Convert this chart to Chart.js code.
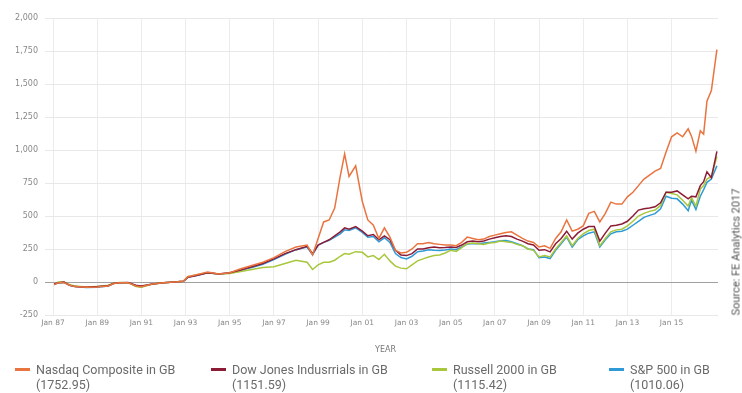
<!DOCTYPE html>
<html>
<head>
<meta charset="utf-8">
<script src="https://cdn.jsdelivr.net/npm/chart.js@4"></script>
<style>
    body { margin: 0; background: #fff; }
    #wrap { position: relative; width: 742px; height: 393px; font-family: 'DejaVu Sans', sans-serif; }
    #chart { position: absolute; left: 0; top: 0; }
    .legend-item { position: absolute; top: 362px; font-family: Roboto, sans-serif; font-size: 12.5px; line-height: 15px; color: #6a6a6a; white-space: nowrap; }
    .legend-item .mark { position: absolute; left: -21px; top: 6px; width: 15px; height: 3px; }
    #source { position: absolute; left: 736px; top: 252px; transform: translate(-50%, -50%) rotate(-90deg); white-space: nowrap; font-family: Roboto, sans-serif; font-size: 11px; color: #555; }
</style>
</head>
<body>
<div id="wrap">
    <canvas id="chart" width="742" height="393"></canvas>
    <div id="legend"></div>
    <div id="source">Source: FE Analytics 2017</div>
</div>
<script>
// time in decimal years
const dates = [
    1987.05, 1987.25, 1987.5, 1987.75, 1988.0, 1988.5, 1989.0, 1989.5, 1989.75,
    1990.0, 1990.4, 1990.75, 1991.0, 1991.5, 1992.0, 1992.5, 1992.9,
    1993.1, 1993.5, 1994.0, 1994.5, 1995.0, 1995.5, 1996.0, 1996.5,
    1997.0, 1997.5, 1998.0, 1998.5, 1998.75, 1999.0, 1999.25, 1999.5, 1999.75,
    2000.0, 2000.2, 2000.4, 2000.7, 2001.0, 2001.25, 2001.5, 2001.75,
    2002.0, 2002.25, 2002.5, 2002.75, 2003.0, 2003.25, 2003.5, 2003.75,
    2004.0, 2004.25, 2004.5, 2004.75, 2005.0, 2005.25, 2005.5, 2005.75,
    2006.0, 2006.25, 2006.5, 2006.75, 2007.0, 2007.25, 2007.5, 2007.75,
    2008.0, 2008.25, 2008.5, 2008.75, 2009.0, 2009.25, 2009.5, 2009.75,
    2010.0, 2010.25, 2010.5, 2010.75, 2011.0, 2011.25, 2011.5, 2011.75,
    2012.0, 2012.25, 2012.5, 2012.75, 2013.0, 2013.25, 2013.5, 2013.75,
    2014.0, 2014.25, 2014.5, 2014.75, 2015.0, 2015.25, 2015.5, 2015.75,
    2015.9, 2016.1, 2016.3, 2016.45, 2016.6, 2016.8, 2017.05
];

const nasdaq = [
    -20, -5, -5, -25, -35, -40, -38, -30, -12,
    -5, -5, -30, -35, -15, -5, 0, 5,
    40, 55, 75, 60, 70, 100, 125, 150,
    185, 230, 265, 280, 205, 330, 455, 470, 560,
    800, 970, 800, 880, 610, 470, 430, 330,
    410, 340, 240, 220, 225, 250, 290, 290,
    300, 290, 285, 280, 280, 275, 300, 340,
    330, 320, 325, 345, 355, 365, 375, 380,
    355, 330, 310, 300, 265, 275, 255, 330,
    380, 470, 385, 400, 425, 520, 535, 455,
    520, 605, 590, 590, 645, 680, 730, 780,
    810, 840, 860, 985, 1100, 1130, 1100, 1160,
    1105, 990, 1145, 1120, 1370, 1450, 1760
];

const dowJones = [
    -15, -5, 0, -25, -35, -40, -35, -28, -10,
    -5, -3, -25, -30, -15, -5, 0, 5,
    35, 50, 70, 60, 70, 90, 115, 140,
    175, 215, 245, 270, 215, 280, 300, 320, 350,
    380, 410, 400, 420, 385, 350, 360, 320,
    350, 320, 240, 205, 200, 215, 250, 250,
    260, 265, 260, 262, 265, 262, 280, 305,
    310, 305, 310, 325, 335, 345, 350, 345,
    325, 310, 290, 280, 240, 245, 228, 290,
    330, 385, 325, 370, 400, 420, 420, 310,
    370, 425, 430, 440, 460, 500, 545, 555,
    560, 570, 600, 680, 680, 690, 660, 630,
    650, 645, 730, 760, 835, 790, 990
];

const russell = [
    -15, 0, 0, -20, -30, -38, -35, -25, -10,
    -3, -5, -35, -40, -15, -5, 0, 5,
    40, 55, 70, 60, 65, 80, 95, 110,
    115, 140, 165, 150, 95, 130, 150, 150, 165,
    195, 215, 210, 230, 225, 190, 200, 170,
    210, 160, 120, 105, 100, 130, 160, 175,
    190, 200, 205, 220, 240, 232, 260, 290,
    295, 290, 285, 295, 300, 310, 305, 300,
    285, 275, 250, 240, 190, 200, 190, 250,
    300, 350, 275, 330, 365, 390, 400, 275,
    330, 380, 395, 400, 425, 460, 500, 520,
    535, 545, 580, 680, 670, 660, 620, 575,
    640, 575, 705, 730, 780, 800, 950
];

const sp500 = [
    -20, -5, -5, -25, -35, -42, -40, -30, -12,
    -5, -5, -30, -35, -15, -5, 0, 5,
    35, 50, 70, 60, 68, 90, 110, 135,
    170, 210, 245, 265, 205, 280, 300, 315, 340,
    365, 395, 390, 410, 375, 340, 345, 305,
    335, 300, 215, 185, 175, 195, 230, 235,
    245, 240, 238, 242, 250, 245, 265, 287,
    292, 290, 295, 300, 305, 312, 315, 305,
    290, 275, 250, 245, 185, 190, 178, 240,
    290, 340, 265, 320, 350, 370, 380, 265,
    320, 365, 380, 385, 400, 430, 460, 490,
    505, 518, 555, 650, 635, 630, 590, 540,
    620, 550, 650, 700, 755, 780, 880
];

const tickYears = [1987, 1989, 1991, 1993, 1995, 1997, 1999, 2001, 2003, 2005, 2007, 2009, 2011, 2013, 2015];
const tickLabels = ["Jan 87", "Jan 89", "Jan 91", "Jan 93", "Jan 95", "Jan 97", "Jan 99", "Jan 01", "Jan 03", "Jan 05", "Jan 07", "Jan 09", "Jan 11", "Jan 13", "Jan 15"];

const seriesNames = ["Nasdaq Composite in GB", "Dow Jones Indusrrials in GB", "Russell 2000 in GB", "S&P 500 in GB"];
const seriesTotals = ["(1752.95)", "(1151.59)", "(1115.42)", "(1010.06)"];
const seriesColors = ["#e9743f", "#8c1c36", "#a8c73c", "#2f9ad6"];
const seriesValues = [nasdaq, dowJones, russell, sp500];

// legend (html, two lines each)
const legendX = [36, 232, 453, 630];
const legendEl = document.getElementById('legend');
seriesNames.forEach((name, i) => {
    const item = document.createElement('div');
    item.className = 'legend-item';
    item.style.left = legendX[i] + 'px';
    item.innerHTML = `<span class="mark" style="background:${seriesColors[i]}"></span>${name.replace('&', '&amp;')}<br>${seriesTotals[i]}`;
    legendEl.appendChild(item);
});

const datasets = seriesNames.map((name, i) => ({
    label: name,
    data: dates.map((d, j) => ({ x: d, y: seriesValues[i][j] })),
    borderColor: seriesColors[i],
    borderWidth: 1.5,
    pointRadius: 0,
    tension: 0,
    fill: false
}));

new Chart(document.getElementById('chart'), {
    type: 'line',
    data: { datasets: datasets },
    options: {
        responsive: false,
        animation: false,
        layout: { padding: { top: 18, right: 24, left: 0, bottom: 35 } },
        plugins: {
            legend: { display: false },
            tooltip: { enabled: false }
        },
        scales: {
            x: {
                type: 'linear',
                min: 1987,
                max: 2017.1,
                afterBuildTicks: scale => { scale.ticks = tickYears.map(v => ({ value: v })); },
                afterFit: scale => { scale.height = 43; },
                grid: { color: '#ececec', drawTicks: false },
                border: { display: false },
                ticks: {
                    padding: 4,
                    maxRotation: 0,
                    autoSkip: false,
                    color: '#888',
                    font: { family: 'DejaVu Sans', size: 7.5 },
                    callback: v => tickLabels[tickYears.indexOf(v)]
                },
                title: {
                    display: true,
                    text: 'YEAR',
                    color: '#777',
                    font: { family: 'DejaVu Sans', size: 8 },
                    padding: { top: 0, bottom: 3 }
                }
            },
            y: {
                min: -250,
                max: 2000,
                afterFit: scale => { scale.width = 53; },
                grid: {
                    color: ctx => ctx.tick && ctx.tick.value === 0 ? '#a0a0a0' : '#e8e8e8',
                    tickLength: 8
                },
                border: { display: false },
                ticks: {
                    stepSize: 250,
                    padding: 7,
                    color: '#888',
                    font: { family: 'DejaVu Sans', size: 8 },
                    callback: v => v.toLocaleString('en-US')
                }
            }
        }
    }
});
</script>
</body>
</html>
